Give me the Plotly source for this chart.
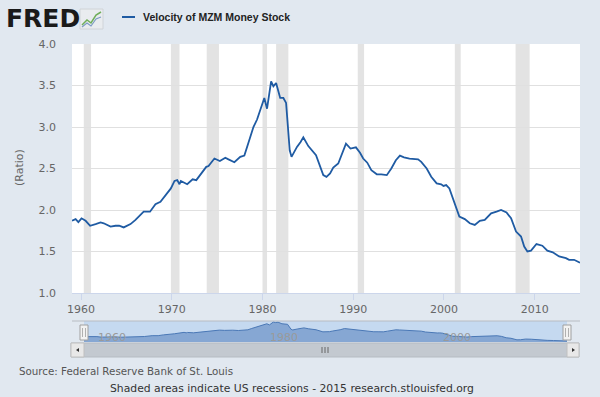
import plotly.graph_objects as go

# ---------------- data ----------------
years = [1959.0, 1959.4, 1959.7, 1960.05, 1960.5, 1961.0, 1961.6, 1962.15, 1962.5,
         1963.25, 1963.8, 1964.2, 1964.7, 1965.45, 1966.0, 1966.9, 1967.6, 1968.2,
         1968.75, 1969.5, 1969.9, 1970.3, 1970.6, 1970.85, 1971.0, 1971.7, 1972.3,
         1972.7, 1973.15, 1973.8, 1974.05, 1974.7, 1975.3, 1975.9, 1976.25, 1976.9,
         1977.55, 1978.0, 1978.45, 1979.0, 1979.4, 1980.2, 1980.5, 1980.95, 1981.2,
         1981.5, 1981.95, 1982.3, 1982.6, 1983.0, 1983.2, 1983.8, 1984.2, 1984.5,
         1985.05, 1985.9, 1986.7, 1987.05, 1987.45, 1987.8, 1988.35, 1988.7, 1989.2,
         1989.7, 1990.3, 1990.75, 1991.1, 1991.55, 1992.0, 1992.6, 1993.1, 1993.7,
         1994.2, 1994.7, 1995.15, 1995.6, 1996.2, 1997.15, 1997.5, 1998.1, 1998.6,
         1999.2, 1999.7, 1999.95, 2000.25, 2000.6, 2001.2, 2001.7, 2002.3, 2002.85,
         2003.4, 2003.95, 2004.5, 2005.2, 2005.8, 2006.3, 2006.9, 2007.4, 2007.95,
         2008.5, 2008.85, 2009.2, 2009.6, 2010.2, 2010.85, 2011.4, 2012.0, 2012.7,
         2013.45, 2013.8, 2014.35, 2015.0]
velocity = [1.87, 1.89, 1.855, 1.90, 1.87, 1.81, 1.83, 1.85, 1.84,
            1.80, 1.81, 1.81, 1.79, 1.83, 1.88, 1.98, 1.98, 2.07,
            2.10, 2.20, 2.26, 2.35, 2.36, 2.31, 2.35, 2.31, 2.37,
            2.36, 2.42, 2.52, 2.53, 2.62, 2.59, 2.63, 2.61, 2.575,
            2.64, 2.655, 2.81, 3.00, 3.09, 3.35, 3.22, 3.55, 3.49,
            3.53, 3.35, 3.35, 3.29, 2.72, 2.64, 2.76, 2.82, 2.875,
            2.77, 2.66, 2.42, 2.40, 2.44, 2.51, 2.56, 2.66, 2.80,
            2.74, 2.755, 2.69, 2.62, 2.57, 2.48, 2.43, 2.43, 2.42,
            2.50, 2.60, 2.655, 2.635, 2.62, 2.61, 2.58, 2.50, 2.40,
            2.32, 2.31, 2.29, 2.30, 2.26, 2.08, 1.92, 1.89, 1.84,
            1.82, 1.87, 1.88, 1.96, 1.98, 2.00, 1.97, 1.90, 1.74,
            1.68, 1.56, 1.50, 1.51, 1.59, 1.57, 1.51, 1.49, 1.44,
            1.42, 1.40, 1.40, 1.365]

recession_start = [1960.3, 1969.9, 1973.85, 1980.0, 1981.5, 1990.5, 2001.2, 2007.9]
recession_end = [1961.1, 1970.85, 1975.2, 1980.5, 1982.85, 1991.2, 2001.85, 2009.45]

x_tick_vals = [1960, 1970, 1980, 1990, 2000, 2010]
x_tick_text = ["1960", "1970", "1980", "1990", "2000", "2010"]
y_tick_vals = [1.0, 1.5, 2.0, 2.5, 3.0, 3.5, 4.0]
nav_tick_vals = [1960, 1980, 2000]
nav_tick_text = ["1960", "1980", "2000"]

series_name = "Velocity of MZM Money Stock"
y_title = "(Ratio)"
source_text = "Source: Federal Reserve Bank of St. Louis"
footer_text = "Shaded areas indicate US recessions - 2015 research.stlouisfed.org"

# ---------------- layout geometry ----------------
W, H = 600, 397
ML, MR, MT, MB = 72, 20, 44, 40
PW, PH = W - ML - MR, H - MT - MB
BG = "#e1e8f0"
LINE = "#1f5ba3"
FONT = "DejaVu Sans"


def px(x):
    return (x - ML) / PW


def py(y):
    return (H - MB - y) / PH


main_dom = [py(293), 1.0]
nav_dom = [py(342), py(321)]

fig = go.Figure()

fig.add_trace(go.Scatter(x=years, y=velocity, mode="lines", name=series_name,
                         line=dict(color=LINE, width=1.8), showlegend=False,
                         xaxis="x", yaxis="y"))

fig.add_trace(go.Scatter(x=years, y=velocity, mode="lines", fill="tozeroy",
                         line=dict(color="#4a78b6", width=1), fillcolor="#86a7d3",
                         showlegend=False, hoverinfo="skip", xaxis="x2", yaxis="y2"))

shapes = []
# white plot background for the main chart
shapes.append(dict(type="rect", xref="x domain", yref="y domain", x0=0, x1=1, y0=0, y1=1,
                   fillcolor="white", line=dict(width=0), layer="below"))
for s, e in zip(recession_start, recession_end):
    shapes.append(dict(type="rect", xref="x", yref="y domain", x0=s, x1=e, y0=0, y1=1,
                       fillcolor="#e3e3e3", line=dict(width=0), layer="below"))

# navigator selected window
shapes.append(dict(type="rect", xref="x2", yref="y2 domain", x0=years[0], x1=years[-1],
                   y0=0, y1=1, fillcolor="#c5d9f0", line=dict(width=0), layer="below"))
# navigator top outline
shapes.append(dict(type="line", xref="paper", yref="paper", x0=0, x1=1,
                   y0=py(321), y1=py(321), line=dict(color="#b8bcc2", width=1)))
# navigator handles
for xv in (years[0], years[-1]):
    shapes.append(dict(type="rect", xref="x2", yref="paper", xsizemode="pixel", xanchor=xv,
                       x0=-4, x1=4, y0=py(340), y1=py(325), fillcolor="#f2f2f2",
                       line=dict(color="#a0a0a0", width=1)))
    for off in (-1.5, 1.5):
        shapes.append(dict(type="line", xref="x2", yref="paper", xsizemode="pixel", xanchor=xv,
                           x0=off, x1=off, y0=py(337), y1=py(328),
                           line=dict(color="#b0b0b0", width=1)))

# scrollbar
shapes.append(dict(type="rect", xref="paper", yref="paper", x0=px(71), x1=px(579),
                   y0=py(357), y1=py(343), fillcolor="#c3c9d0",
                   line=dict(color="#b5bbc2", width=1)))
for x0, x1 in ((71, 84), (567, 579)):
    shapes.append(dict(type="rect", xref="paper", yref="paper", x0=px(x0), x1=px(x1),
                       y0=py(357), y1=py(343), fillcolor="#e8e8e8",
                       line=dict(color="#c0c0c0", width=1)))
shapes.append(dict(type="path", xref="paper", yref="paper",
                   path="M %f,%f L %f,%f L %f,%f Z" % (px(76), py(350), px(79), py(348), px(79), py(352)),
                   fillcolor="#333", line=dict(width=0)))
shapes.append(dict(type="path", xref="paper", yref="paper",
                   path="M %f,%f L %f,%f L %f,%f Z" % (px(575), py(350), px(572), py(348), px(572), py(352)),
                   fillcolor="#333", line=dict(width=0)))
for gx in (322, 325, 328):
    shapes.append(dict(type="line", xref="paper", yref="paper", x0=px(gx), x1=px(gx),
                       y0=py(353), y1=py(347), line=dict(color="#666", width=1)))

# legend symbol
shapes.append(dict(type="line", xref="paper", yref="paper", x0=px(122), x1=px(135),
                   y0=py(17), y1=py(17), line=dict(color=LINE, width=2)))

# FRED logo icon (small chart glyph)
shapes.append(dict(type="rect", xref="paper", yref="paper", x0=px(80), x1=px(103),
                   y0=py(29), y1=py(9), fillcolor="#e9ecef", line=dict(color="#d0d4d8", width=1)))
shapes.append(dict(type="path", xref="paper", yref="paper",
                   path="M %f,%f L %f,%f L %f,%f L %f,%f L %f,%f" % (
                       px(82), py(25), px(87), py(20), px(91), py(23), px(96), py(15), px(101), py(12)),
                   line=dict(color="#6fae5a", width=1.5)))
shapes.append(dict(type="path", xref="paper", yref="paper",
                   path="M %f,%f L %f,%f L %f,%f L %f,%f L %f,%f" % (
                       px(82), py(27), px(87), py(23), px(91), py(26), px(96), py(19), px(101), py(17)),
                   line=dict(color="#7d9cc4", width=1.2)))

annotations = [
    dict(text="<b>FRED</b>", xref="paper", yref="paper", x=px(4), y=py(18), xanchor="left",
         yanchor="middle", showarrow=False, font=dict(family="DejaVu Sans", size=25, color="#1a1a1a")),
    dict(text="<b>" + series_name + "</b>", xref="paper", yref="paper", x=px(141), y=py(17),
         xanchor="left", yanchor="middle", showarrow=False,
         font=dict(family="Liberation Sans", size=10.5, color="#222")),
    dict(text=y_title, xref="paper", yref="paper", x=px(19), y=py(168), xanchor="center",
         yanchor="middle", textangle=-90, showarrow=False,
         font=dict(family=FONT, size=11, color="#666")),
    dict(text=source_text, xref="paper", yref="paper", x=px(17), y=py(371), xanchor="left",
         yanchor="middle", showarrow=False, font=dict(family=FONT, size=10.3, color="#555")),
    dict(text=footer_text, xref="paper", yref="paper", x=px(292), y=py(388), xanchor="center",
         yanchor="middle", showarrow=False, font=dict(family=FONT, size=10.8, color="#333")),
]
for tv, tt in zip(nav_tick_vals, nav_tick_text):
    annotations.append(dict(text=tt, xref="x2", yref="paper", x=tv, y=py(337), xanchor="left",
                            yanchor="middle", xshift=3, showarrow=False,
                            font=dict(family=FONT, size=11, color="#9a9a9a")))

nav_px_per_year = (567 - 84) / (years[-1] - years[0])
nav_range = [years[0] - (84 - 72) / nav_px_per_year, years[-1] + (580 - 567) / nav_px_per_year]

fig.update_layout(
    width=W, height=H,
    margin=dict(l=ML, r=MR, t=MT, b=MB),
    paper_bgcolor=BG, plot_bgcolor=BG,
    shapes=shapes, annotations=annotations,
    xaxis=dict(domain=[0, 1], range=[years[0], years[-1]], tickvals=x_tick_vals,
               ticktext=x_tick_text, ticks="outside", ticklen=6, tickcolor="#ccd6eb",
               showline=True, linecolor="#ccd6eb", linewidth=1, showgrid=False, zeroline=False,
               tickfont=dict(family=FONT, size=11, color="#666"), anchor="y"),
    yaxis=dict(domain=main_dom, range=[1.0, 4.0], tickvals=y_tick_vals, tickformat=".1f",
               showgrid=True, gridcolor="#e0e0e0", gridwidth=1, zeroline=False, showline=False,
               ticks="", ticklabelstandoff=15,
               tickfont=dict(family=FONT, size=11, color="#666"), anchor="x"),
    xaxis2=dict(domain=[0, 1], range=nav_range, showticklabels=False, ticks="",
                showgrid=False, zeroline=False, showline=False, anchor="y2"),
    yaxis2=dict(domain=nav_dom, range=[1.25, 3.67], showticklabels=False, showgrid=False,
                zeroline=False, showline=False, anchor="x2"),
    showlegend=False,
)

fig.write_html("out.html", config={"displayModeBar": False},
               post_script="document.body.style.margin='0';document.body.style.padding='0';"
                           "document.documentElement.style.background='%s';" % BG)
